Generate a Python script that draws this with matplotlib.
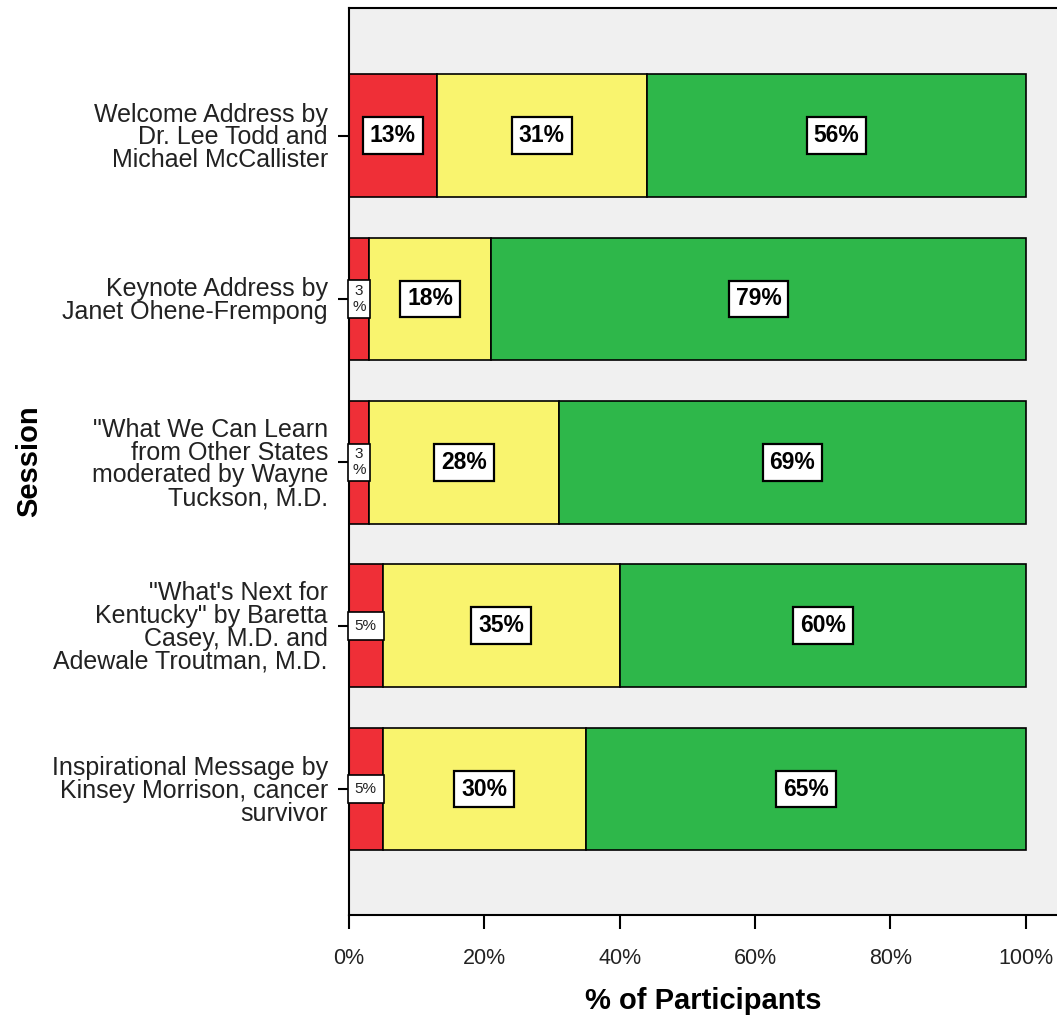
import matplotlib.pyplot as plt
import numpy as np

plt.rcParams['font.family'] = ['Liberation Sans', 'DejaVu Sans']

# Data
sessions = [
    "Welcome Address by\nDr. Lee Todd and\nMichael McCallister",
    "Keynote Address by\nJanet Ohene-Frempong",
    "\"What We Can Learn\nfrom Other States\nmoderated by Wayne\nTuckson, M.D.",
    "\"What's Next for\nKentucky\" by Baretta\nCasey, M.D. and\nAdewale Troutman, M.D.",
    "Inspirational Message by\nKinsey Morrison, cancer\nsurvivor",
]
red_vals = [13, 3, 3, 5, 5]
yellow_vals = [31, 18, 28, 35, 30]
green_vals = [56, 79, 69, 60, 65]

colors = ["#EF2F37", "#F9F46E", "#2EB74A"]

fig = plt.figure(figsize=(10.57, 10.21), dpi=100)
ax = fig.add_axes([0.330, 0.104, 0.670, 0.888])
ax.set_facecolor("#F0F0F0")

y = np.arange(len(sessions))
left = np.zeros(len(sessions))
for vals, c in zip([red_vals, yellow_vals, green_vals], colors):
    vals = np.array(vals, dtype=float)
    ax.barh(y, vals, left=left, height=0.75, color=c, edgecolor="black", linewidth=1.2)
    for yi, (l, v) in enumerate(zip(left, vals)):
        if v >= 10:
            ax.text(l + v / 2, yi, f"{int(v)}%", ha="center", va="center",
                    fontsize=16.5, fontweight="bold", color="black",
                    bbox=dict(boxstyle="square,pad=0.3", fc="white", ec="black", lw=1.6))
        elif v < 4:
            ax.text(l + v / 2, yi, f"{int(v)}\n%", ha="center", va="center",
                    fontsize=11, color="#222222", linespacing=1.15,
                    bbox=dict(boxstyle="square,pad=0.25", fc="white", ec="black", lw=1.2))
        else:
            ax.text(l + v / 2, yi, f"{int(v)}%", ha="center", va="center",
                    fontsize=11, color="#222222",
                    bbox=dict(boxstyle="square,pad=0.45", fc="white", ec="black", lw=1.2))
    left = left + vals

ax.set_xlim(0, 104.6)
ax.set_ylim(4.77, -0.78)
ax.set_xticks([0, 20, 40, 60, 80, 100])
ax.set_xticklabels([f"{t}%" for t in [0, 20, 40, 60, 80, 100]])
ax.set_yticks(y)
ax.set_yticklabels(sessions, fontsize=18, color="#222222", linespacing=0.93)
ax.tick_params(axis="x", labelsize=15.5, labelcolor="#222222", length=10, width=1.5, pad=14)
ax.tick_params(axis="y", length=8, width=1.5, pad=7)

for s in ["left", "bottom", "top"]:
    ax.spines[s].set_linewidth(1.5)
ax.spines["right"].set_visible(False)

ax.set_xlabel("% of Participants", fontsize=21, fontweight="bold", labelpad=13)
ax.set_ylabel("Session", fontsize=21, fontweight="bold", labelpad=6)

fig.savefig("out.png", dpi=100)
